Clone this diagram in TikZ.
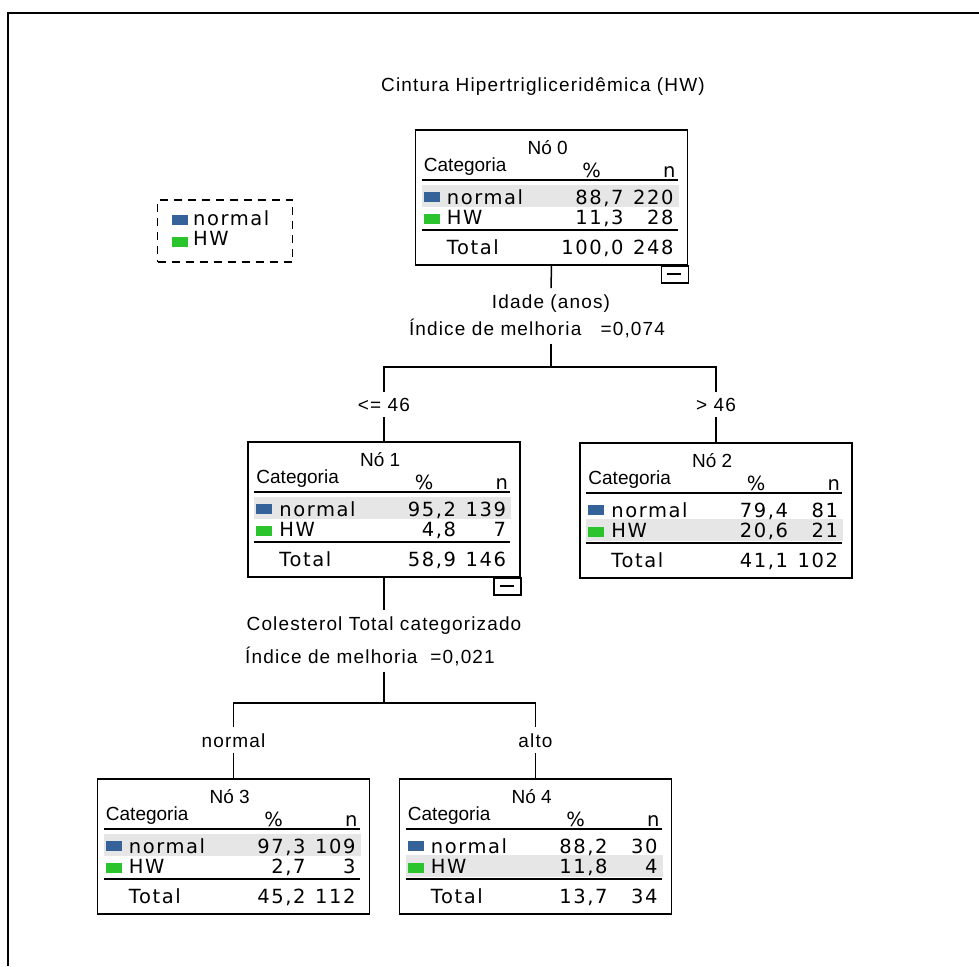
\documentclass[tikz,border=0pt]{standalone}
\usepackage{fontspec}
\setmainfont{Liberation Sans}
\newfontfamily\lblfont[LetterSpace=6]{Liberation Sans}
\newfontfamily\tabfont[LetterSpace=8]{DejaVu Sans}

\definecolor{spssblue}{RGB}{52,98,153}
\definecolor{spssgreen}{RGB}{44,196,44}
\definecolor{rowgrey}{RGB}{230,230,230}

\tikzset{
  treebox/.style={draw, line width=1.5pt, minimum width=272pt, minimum height=135pt, inner sep=0pt},
  lbl/.style={font=\lblfont\fontsize{19}{22}\selectfont, inner sep=6pt},
  tabtxt/.style={font=\tabfont\fontsize{19.5}{21}\selectfont, inner sep=0pt},
  hdrtxt/.style={font=\fontsize{19}{22}\selectfont, inner sep=0pt},
  rule/.style={line width=2pt},
  link/.style={line width=1.5pt},
}

\begin{document}
\begin{tikzpicture}[x=1pt,y=-1pt]
  \useasboundingbox (0,0) rectangle (979,966);
  \newcommand\tabfill[9]{% {<box>}{<title>}{<pct normal>}{<n normal>}{<pct HW>}{<n HW>}{<pct total>}{<n total>}{<grey row offset>}
    \begin{scope}[shift={(#1.north west)}]
      \fill[rowgrey] (7,56+#9) rectangle (264,78+#9);
      \node[hdrtxt,anchor=base] (#1-title) at (133,25) {#2};
      \node[hdrtxt,anchor=base west] (#1-cat) at (9,42) {Categoria};
      \node[tabtxt,anchor=base] (#1-pct) at (177,48) {\%};
      \node[tabtxt,anchor=base east] (#1-n) at (261,48) {n};
      \draw[rule] (7,51) -- (263,51);
      \fill[spssblue] (9,63) rectangle (25,73);
      \node[tabtxt,anchor=base west] (#1-r1) at (32,75) {normal};
      \node[tabtxt,anchor=base east] (#1-r1p) at (209,75) {#3};
      \node[tabtxt,anchor=base east] (#1-r1n) at (259,75) {#4};
      \fill[spssgreen] (9,85) rectangle (25,95);
      \node[tabtxt,anchor=base west] (#1-r2) at (32,95) {HW};
      \node[tabtxt,anchor=base east] (#1-r2p) at (209,95) {#5};
      \node[tabtxt,anchor=base east] (#1-r2n) at (259,95) {#6};
      \draw[rule] (7,101) -- (263,101);
      \node[tabtxt,anchor=base west] (#1-tot) at (32,125) {Total};
      \node[tabtxt,anchor=base east] (#1-totp) at (209,125) {#7};
      \node[tabtxt,anchor=base east] (#1-totn) at (259,125) {#8};
    \end{scope}
  }
  \newcommand\collapse[1]{% {<box>}
    \draw[link] ([xshift=-27pt]#1.south east) rectangle ++(27,17);
    \draw[rule] ([xshift=-21pt,yshift=-8.5pt]#1.south east) -- ++(14,0);
  }

  % frame
  \draw[line width=2.5pt] (8,966) -- (8,13) -- (979,13);

  \node[lbl,anchor=base,inner sep=0pt] (title) at (543,92) {Cintura Hipertrigliceridêmica (HW)};

  % legend
  \node[draw, line width=1.5pt, dash pattern=on 8pt off 6pt, minimum width=135pt, minimum height=62pt] (legend) at (225,231) {};
  \fill[spssblue] (172,215) rectangle (188,225);
  \node[tabtxt,anchor=base west] (leg-normal) at (193,225) {normal};
  \fill[spssgreen] (172,237) rectangle (188,247);
  \node[tabtxt,anchor=base west] (leg-hw) at (193,245) {HW};

  % nodes
  \node[treebox] (n0) at (551.5,197.5) {};
  \node[treebox] (n1) at (384,509.5) {};
  \node[treebox] (n2) at (716,510.5) {};
  \node[treebox] (n3) at (233.5,846.5) {};
  \node[treebox] (n4) at (535.5,846.5) {};
  \tabfill{n0}{Nó 0}{88,7}{220}{11,3}{28}{100,0}{248}{0}
  \tabfill{n1}{Nó 1}{95,2}{139}{4,8}{7}{58,9}{146}{0}
  \tabfill{n2}{Nó 2}{79,4}{81}{20,6}{21}{41,1}{102}{21}
  \tabfill{n3}{Nó 3}{97,3}{109}{2,7}{3}{45,2}{112}{0}
  \tabfill{n4}{Nó 4}{88,2}{30}{11,8}{4}{13,7}{34}{21}
  \collapse{n0}
  \collapse{n1}

  % first split
  \node[lbl,anchor=base] (split0) at (551,308) {Idade (anos)};
  \node[lbl,anchor=base] (gain0) at (537,335) {Índice de melhoria\ \ \ =0,074};
  \coordinate (j0) at (551,367);
  \node[lbl,anchor=base] (b1) at (384,411) {<= 46};
  \node[lbl,anchor=base] (b2) at (716,411) {> 46};
  \draw[link] (n0.south) -- (split0.north);
  \draw[link] (j0 |- gain0.south) -- (j0);
  \draw[link] (b1.north) -- (b1.north |- j0) -- (b2.north |- j0) -- (b2.north);
  \draw[link] (b1.south) -- (n1.north);
  \draw[link] (b2.south) -- (n2.north);

  % second split
  \node[lbl,anchor=base] (split1) at (384,630) {Colesterol Total categorizado};
  \node[lbl,anchor=base] (gain1) at (370,663) {Índice de melhoria\ \ =0,021};
  \coordinate (j1) at (384,703);
  \node[lbl,anchor=base] (b3) at (233.5,747) {normal};
  \node[lbl,anchor=base] (b4) at (535.5,747) {alto};
  \draw[link] (n1.south) -- (split1.north);
  \draw[link] (j1 |- gain1.south) -- (j1);
  \draw[link] (b3.north) -- (b3.north |- j1) -- (b4.north |- j1) -- (b4.north);
  \draw[link] (b3.south) -- (n3.north);
  \draw[link] (b4.south) -- (n4.north);
\end{tikzpicture}
\end{document}
